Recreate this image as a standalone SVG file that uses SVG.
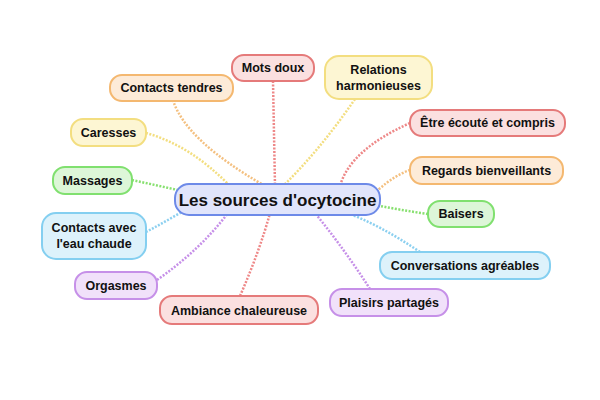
<svg xmlns="http://www.w3.org/2000/svg" width="600" height="400" viewBox="0 0 600 400">
<style>
text{font-family:"Liberation Sans",Arial,sans-serif;font-weight:bold;font-size:12.5px;fill:#111;text-anchor:middle}
rect{stroke-width:2}
.l{fill:none;stroke-width:2.5;stroke-dasharray:2 1.5}
.r rect{fill:#fbe0e0;stroke:#e57a7a}.o rect{fill:#fdebd8;stroke:#f4b870}.y rect{fill:#fdf6d3;stroke:#f3de80}
.g rect{fill:#ddf6d8;stroke:#80e06f}.b rect{fill:#ddf2fb;stroke:#84cff0}.p rect{fill:#f1e1fa;stroke:#c690e8}
</style>
<rect width="600" height="400" fill="#fff" stroke="none"/>
<g id="connectors">
<path class="l" stroke="#e88" d="M273,81 L275,186"/>
<path class="l" stroke="#f4c080" d="M173,100 Q185,140 265,186"/>
<path class="l" stroke="#f3de80" d="M146,133 Q190,145 230,186"/>
<path class="l" stroke="#88e070" d="M132,180 L178,190"/>
<path class="l" stroke="#8cd0f0" d="M146,232 Q165,222 185,210"/>
<path class="l" stroke="#c690e8" d="M157,280 Q200,250 228,213"/>
<path class="l" stroke="#e88" d="M240,296 Q260,250 270,213"/>
<path class="l" stroke="#c690e8" d="M370,289 Q345,250 315,213"/>
<path class="l" stroke="#8cd0f0" d="M420,252 Q380,225 345,212"/>
<path class="l" stroke="#88e070" d="M428,214 Q400,210 375,205"/>
<path class="l" stroke="#f4c080" d="M410,170 Q395,175 378,190"/>
<path class="l" stroke="#e88" d="M410,123 Q350,150 340,186"/>
<path class="l" stroke="#f3de80" d="M355,99 Q320,150 283,186"/>
</g>
<g id="center"><rect x="175" y="184" width="205" height="31" rx="14" fill="#e1e5fb" stroke="#6d8ae8"/><text x="277.5" y="206" style="font-size:17px">Les sources d'ocytocine</text></g>
<g id="n1" class="r"><rect x="232" y="55" width="82" height="26" rx="12"/><text x="273" y="72">Mots doux</text></g>
<g id="n2" class="o"><rect x="110" y="75" width="123" height="26" rx="12"/><text x="171.5" y="92">Contacts tendres</text></g>
<g id="n3" class="y"><rect x="71" y="119" width="75" height="27" rx="12"/><text x="108.5" y="137">Caresses</text></g>
<g id="n4" class="g"><rect x="53" y="167" width="79" height="27" rx="12"/><text x="92.5" y="185">Massages</text></g>
<g id="n5" class="b"><rect x="42" y="213" width="104" height="46" rx="14"/><text x="94" y="232">Contacts avec</text><text x="94" y="248">l'eau chaude</text></g>
<g id="n6" class="p"><rect x="75" y="272" width="82" height="27" rx="12"/><text x="116" y="290">Orgasmes</text></g>
<g id="n7" class="r"><rect x="160" y="296" width="158" height="28" rx="12"/><text x="239" y="315">Ambiance chaleureuse</text></g>
<g id="n8" class="p"><rect x="330" y="289" width="118" height="27" rx="12"/><text x="389" y="307">Plaisirs partagés</text></g>
<g id="n9" class="b"><rect x="380" y="252" width="170" height="27" rx="12"/><text x="465" y="270">Conversations agréables</text></g>
<g id="n10" class="g"><rect x="428" y="201" width="66" height="26" rx="12"/><text x="461" y="218">Baisers</text></g>
<g id="n11" class="o"><rect x="410" y="157" width="153" height="27" rx="12"/><text x="486.5" y="175">Regards bienveillants</text></g>
<g id="n12" class="r"><rect x="410" y="110" width="155" height="26" rx="12"/><text x="487.5" y="127">Être écouté et compris</text></g>
<g id="n13" class="y"><rect x="325" y="56" width="107" height="43" rx="14"/><text x="378.5" y="74">Relations</text><text x="378.5" y="90">harmonieuses</text></g>
</svg>
